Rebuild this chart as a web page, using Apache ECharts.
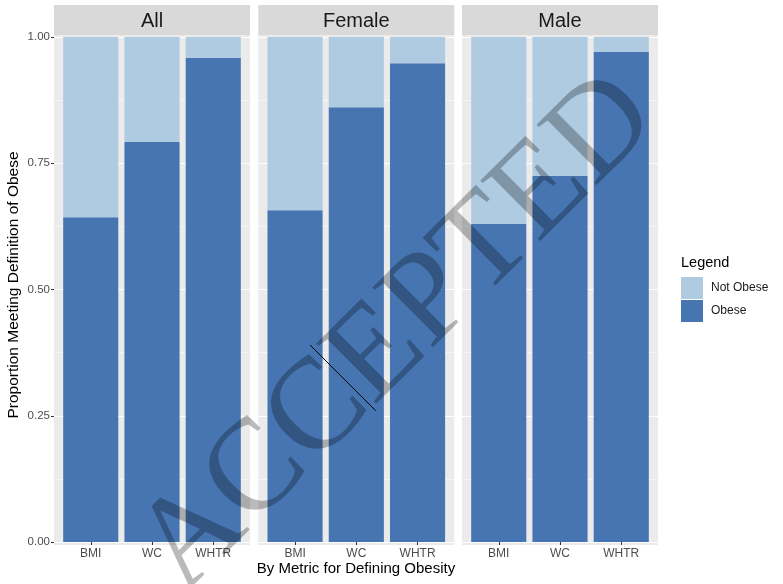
<!DOCTYPE html>
<html>
<head>
<meta charset="utf-8">
<script src="https://cdn.jsdelivr.net/npm/echarts/dist/echarts.min.js"></script>
<style>
  html, body { margin: 0; padding: 0; background: #fff; }
  #chart { width: 783px; height: 584px; }
</style>
</head>
<body>
<div id="chart"></div>
<script>
// ========= data =========
const categories = ['BMI', 'WC', 'WHTR'];
const panels = ['All', 'Female', 'Male'];
const obeseAll = [0.643, 0.792, 0.959];
const obeseFemale = [0.657, 0.861, 0.948];
const obeseMale = [0.630, 0.725, 0.971];
const notObeseAll = [0.357, 0.208, 0.041];
const notObeseFemale = [0.343, 0.139, 0.052];
const notObeseMale = [0.370, 0.275, 0.029];
const yTicks = [0, 0.25, 0.5, 0.75, 1];

const obese = [obeseAll, obeseFemale, obeseMale];
const notObese = [notObeseAll, notObeseFemale, notObeseMale];

// ========= layout =========
const FONT = 'Liberation Sans, Arial, sans-serif';
const DARK = '#4675B2';
const LIGHT = '#AFCBE2';
const panelLeft = [54, 258.3, 462];
const panelW = 196;
const pad = panelW * 0.1 / 3.2;     // ggplot discrete expansion (0.6) minus half a band
const plotTop = 37, plotH = 505;

const grids = [], xAxes = [], yAxes = [], series = [];

// background grids (full panel width, for gridlines + y labels)
panels.forEach((p, i) => {
    grids.push({ left: panelLeft[i], top: plotTop, width: panelW, height: plotH, containLabel: false });
    xAxes.push({ gridIndex: i, type: 'value', min: 0, max: 1, show: false });
    yAxes.push({
        gridIndex: i, type: 'value', min: yTicks[0], max: yTicks[yTicks.length - 1], interval: 0.25,
        axisLine: { show: false },
        axisTick: { show: i === 0, length: 3, lineStyle: { color: '#333', width: 1 } },
        axisLabel: {
            show: i === 0, margin: 4, color: '#4D4D4D', fontSize: 11.5, fontFamily: FONT,
            formatter: v => v.toFixed(2)
        },
        splitLine: { show: true, lineStyle: { color: '#fff', width: 1.1 } },
        minorTick: { show: false, splitNumber: 2 },
        minorSplitLine: { show: true, lineStyle: { color: '#fff', width: 0.5 } }
    });
});

// bar grids
panels.forEach((p, i) => {
    const g = 3 + i;
    grids.push({ left: panelLeft[i] + pad, top: plotTop, width: panelW - 2 * pad, height: plotH });
    xAxes.push({
        gridIndex: g, type: 'category', data: categories, offset: 3,
        axisLine: { show: false },
        axisTick: { show: true, alignWithLabel: true, length: 3, lineStyle: { color: '#333' } },
        axisLabel: { margin: 3, interval: 0, color: '#4D4D4D', fontSize: 12, fontFamily: FONT }
    });
    yAxes.push({ gridIndex: g, type: 'value', min: 0, max: 1, show: false });
    series.push({
        name: 'Obese', type: 'bar', stack: 'p' + i, xAxisIndex: g, yAxisIndex: g,
        barCategoryGap: '10%', data: obese[i], itemStyle: { color: DARK }
    });
    series.push({
        name: 'Not Obese', type: 'bar', stack: 'p' + i, xAxisIndex: g, yAxisIndex: g,
        barCategoryGap: '10%', data: notObese[i], itemStyle: { color: LIGHT }
    });
});

const graphic = [];
panels.forEach((p, i) => {
    graphic.push({ type: 'rect', z: -10, shape: { x: panelLeft[i], y: 35, width: panelW, height: 510 }, style: { fill: '#EBEBEB' } });
    graphic.push({ type: 'rect', z: -10, shape: { x: panelLeft[i], y: 5, width: panelW, height: 30 }, style: { fill: '#D9D9D9' } });
    graphic.push({
        type: 'text', x: panelLeft[i] + panelW / 2, y: 21,
        style: { text: p, fontSize: 20, fontFamily: FONT, fill: '#1A1A1A', align: 'center', verticalAlign: 'middle' }
    });
});
graphic.push({
    type: 'text', x: 356, y: 569,
    style: { text: 'By Metric for Defining Obesity', fontSize: 15, fontFamily: FONT, fill: '#000', align: 'center', verticalAlign: 'middle' }
});
graphic.push({
    type: 'text', x: 14, y: 285, rotation: Math.PI / 2,
    style: { text: 'Proportion Meeting Definition of Obese', fontSize: 15.5, fontFamily: FONT, fill: '#000', align: 'center', verticalAlign: 'middle' }
});
graphic.push({
    type: 'text', x: 681, y: 263,
    style: { text: 'Legend', fontSize: 14.5, fontFamily: FONT, fill: '#000', align: 'left', verticalAlign: 'middle' }
});
// watermark
graphic.push({
    type: 'text', x: 398, y: 334, rotation: 44.8 * Math.PI / 180, z: 100,
    style: { text: 'ACCEPTED', fontSize: 130, fontFamily: 'Liberation Serif, Times New Roman, serif', fill: 'rgba(0,0,0,0.27)', align: 'center', verticalAlign: 'middle' }
});
graphic.push({
    type: 'line', z: 101, shape: { x1: 310, y1: 345, x2: 375.7, y2: 410.7 }, style: { stroke: '#000', lineWidth: 1 }
});

const chart = echarts.init(document.getElementById('chart'));
chart.setOption({
    animation: false,
    backgroundColor: '#fff',
    grid: grids,
    xAxis: xAxes,
    yAxis: yAxes,
    series: series,
    legend: {
        data: ['Not Obese', 'Obese'],
        orient: 'vertical', left: 681, top: 277, padding: 0,
        icon: 'rect', itemWidth: 22, itemHeight: 22, itemGap: 1,
        textStyle: { fontSize: 12, fontFamily: FONT, color: '#1A1A1A', padding: [0, 0, 0, 3] }
    },
    graphic: graphic
});
</script>
</body>
</html>
